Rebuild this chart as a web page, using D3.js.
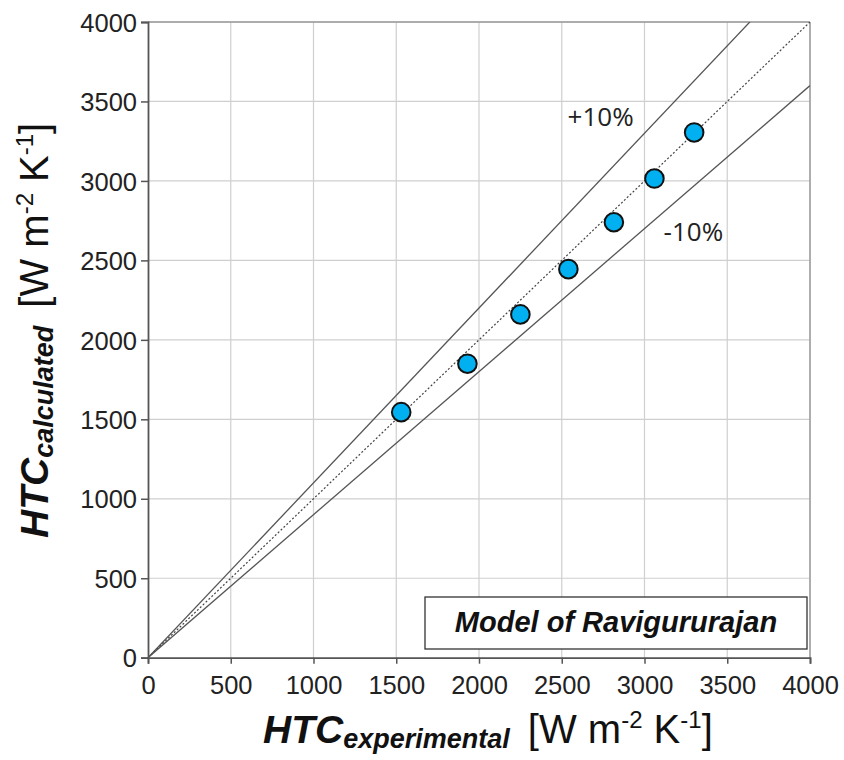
<!DOCTYPE html>
<html>
<head>
<meta charset="utf-8">
<script src="https://cdn.jsdelivr.net/npm/d3@7"></script>
<style>
  html, body { margin: 0; padding: 0; background: #fff; }
  svg { display: block; }
</style>
</head>
<body>
<svg id="chart" width="844" height="760"></svg>
<script>
// ---- data ----
const htcExperimental = [1530, 1930, 2250, 2540, 2815, 3060, 3300];
const htcCalculated   = [1545, 1850, 2160, 2445, 2740, 3015, 3305];
const xTicks = [0, 500, 1000, 1500, 2000, 2500, 3000, 3500, 4000];
const yTicks = [0, 500, 1000, 1500, 2000, 2500, 3000, 3500, 4000];
const bandFactors = [1.1, 1.0, 0.9];
const bandLabels = ["+10%", "", "-10%"];
const modelName = "Model of Ravigururajan";

// ---- layout ----
const svg = d3.select("#chart");
const pLeft = 148, pRight = 810, pTop = 22, pBottom = 657.7;
const x = d3.scaleLinear().domain([0, 4000]).range([pLeft, pRight]);
const y = d3.scaleLinear().domain([0, 4000]).range([pBottom, pTop]);
const tickFont = "'Liberation Sans', Arial, sans-serif";

// grid
svg.append("g").selectAll("line").data(xTicks.filter(d => d > 0)).join("line")
  .attr("x1", d => x(d)).attr("x2", d => x(d)).attr("y1", y(0)).attr("y2", y(4000))
  .attr("stroke", "#cfcfcf").attr("stroke-width", 1.2);
svg.append("g").selectAll("line").data(yTicks.filter(d => d > 0)).join("line")
  .attr("y1", d => y(d)).attr("y2", d => y(d)).attr("x1", x(0)).attr("x2", x(4000))
  .attr("stroke", "#cfcfcf").attr("stroke-width", 1.2);
// top/right border slightly darker
svg.append("line").attr("x1", x(0)).attr("x2", x(4000)).attr("y1", y(4000)).attr("y2", y(4000))
  .attr("stroke", "#999").attr("stroke-width", 1.4);
svg.append("line").attr("x1", x(4000)).attr("x2", x(4000)).attr("y1", y(0)).attr("y2", y(4000))
  .attr("stroke", "#999").attr("stroke-width", 1.4);

// clip
svg.append("defs").append("clipPath").attr("id", "plotclip").append("rect")
  .attr("x", pLeft).attr("y", pTop).attr("width", pRight - pLeft).attr("height", pBottom - pTop);

// reference lines
const refG = svg.append("g").attr("clip-path", "url(#plotclip)");
bandFactors.forEach((f) => {
  refG.append("line")
    .attr("x1", x(0)).attr("y1", y(0))
    .attr("x2", x(4000)).attr("y2", y(4000 * f))
    .attr("stroke", f === 1 ? "#444" : "#555")
    .attr("stroke-width", f === 1 ? 1.2 : 1.3)
    .attr("stroke-dasharray", f === 1 ? "2,2" : null);
});

// band labels
svg.append("text").attr("x", x(2535)).attr("y", y(3345))
  .attr("font-family", "'Open Sans', sans-serif").attr("font-size", 26).attr("fill", "#222")
  .text(bandLabels[0]);
svg.append("text").attr("x", x(3115)).attr("y", y(2625))
  .attr("font-family", "'Open Sans', sans-serif").attr("font-size", 26).attr("fill", "#222")
  .text(bandLabels[2]);

// axes
const xAxis = svg.append("g").attr("transform", `translate(0,${pBottom})`)
  .call(d3.axisBottom(x).tickValues(xTicks).tickSize(6).tickPadding(12).tickFormat(d3.format("d")));
const yAxis = svg.append("g").attr("transform", `translate(${pLeft},0)`)
  .call(d3.axisLeft(y).tickValues(yTicks).tickSize(7).tickPadding(4).tickFormat(d3.format("d")));
[xAxis, yAxis].forEach(g => {
  g.select(".domain").attr("stroke", "#555").attr("stroke-width", 1.8);
  g.selectAll(".tick line").attr("stroke", "#555").attr("stroke-width", 1.5);
  g.selectAll(".tick text").attr("font-family", tickFont).attr("font-size", 25.5).attr("fill", "#222");
});
yAxis.selectAll(".tick text").attr("dy", "0.36em");

// points
svg.append("g").selectAll("circle").data(htcExperimental).join("circle")
  .attr("cx", d => x(d)).attr("cy", (d, i) => y(htcCalculated[i]))
  .attr("r", 9.3).attr("fill", "#00b0f0").attr("stroke", "#111").attr("stroke-width", 2);

// legend box
svg.append("rect").attr("x", 425).attr("y", 597).attr("width", 382).attr("height", 52)
  .attr("fill", "#fff").attr("stroke", "#333").attr("stroke-width", 1.3);
svg.append("text").attr("x", 616).attr("y", 632).attr("text-anchor", "middle")
  .attr("font-family", tickFont).attr("font-weight", "bold").attr("font-style", "italic")
  .attr("font-size", 29).attr("fill", "#111").text(modelName);

// axis titles
function title(g, sub) {
  const t = g.append("text").attr("font-family", tickFont).attr("fill", "#111");
  t.append("tspan").attr("font-weight", "bold").attr("font-style", "italic").attr("font-size", 39).text("HTC");
  t.append("tspan").attr("font-weight", "bold").attr("font-style", "italic").attr("font-size", 27).attr("dy", 5).text(sub);
  t.append("tspan").attr("font-size", 40).attr("dy", -5).attr("dx", 7).text("\u00a0[W m");
  t.append("tspan").attr("font-size", 24).attr("dy", -15).text("-2");
  t.append("tspan").attr("font-size", 40).attr("dy", 15).text("\u00a0K");
  t.append("tspan").attr("font-size", 24).attr("dy", -15).text("-1");
  t.append("tspan").attr("font-size", 40).attr("dy", 15).text("]");
  return t;
}
title(svg.append("g").attr("transform", "translate(263,743)"), "experimental");
title(svg.append("g").attr("transform", "translate(48,538) rotate(-90)"), "calculated");
</script>
</body>
</html>
